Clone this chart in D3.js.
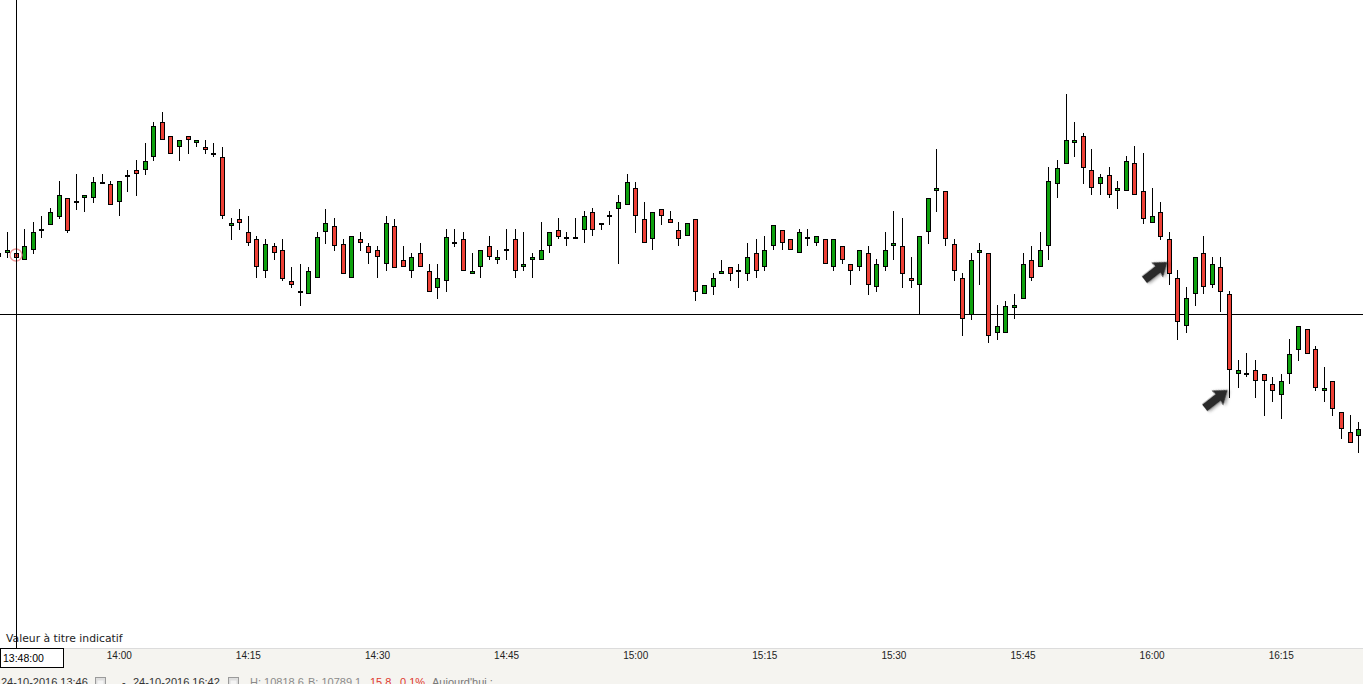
<!DOCTYPE html>
<html><head><meta charset="utf-8">
<script src="https://cdn.jsdelivr.net/npm/d3@7"></script>
<style>html,body{margin:0;padding:0;background:#fff;overflow:hidden}</style>
</head><body><svg id="c" width="1363" height="684"></svg>
<script>
// ---- data: 1-minute bars starting 13:46 ----
const startTime = "13:46";
const openP = [
10802.7,10802.8,10802.7,10802.1,10803.1,10805.0,10805.6,10806.4,10808.2,10807.8,
10808.3,10808.3,10809.7,10809.6,10807.9,10810.4,10811.0,10811.1,10812.4,10815.8,
10814.4,10813.4,10814.4,10813.8,10813.3,10812.6,10812.3,10805.5,10806.1,10804.8,
10804.1,10801.0,10803.4,10803.0,10799.9,10798.8,10798.7,10800.3,10804.9,10805.4,
10803.6,10800.3,10804.1,10803.4,10803.0,10801.7,10805.4,10802.0,10801.0,10802.7,
10800.9,10799.3,10800.0,10803.7,10804.1,10800.7,10801.4,10803.4,10802.1,10803.0,
10804.1,10801.4,10802.1,10802.1,10803.5,10805.0,10804.2,10804.2,10805.1,10806.8,
10805.6,10806.4,10807.2,10807.6,10809.2,10806.1,10804.2,10807.1,10806.1,10805.0,
10804.5,10806.1,10798.7,10799.4,10800.7,10801.3,10800.9,10800.7,10802.7,10801.4,
10803.5,10805.0,10804.1,10802.8,10804.2,10803.8,10804.1,10801.4,10803.4,10801.6,
10801.4,10802.7,10799.4,10801.4,10803.5,10803.4,10800.2,10799.6,10804.9,10809.0,
10808.9,10803.6,10800.2,10796.6,10802.8,10802.7,10794.8,10794.8,10797.3,10798.2,
10802.0,10801.4,10803.5,10809.7,10811.7,10813.8,10814.4,10811.0,10809.7,10810.5,
10809.0,10809.0,10811.7,10808.9,10805.8,10806.8,10804.1,10800.2,10795.5,10798.7,
10802.7,10799.6,10801.3,10798.6,10790.7,10790.6,10791.0,10790.6,10789.6,10788.6,
10790.7,10793.1,10795.1,10793.1,10789.0,10789.9,10786.8,10784.8,10784.5];
const highP = [
10802.8,10804.8,10802.7,10805.1,10805.8,10806.4,10807.2,10809.9,10808.2,10810.6,
10808.5,10810.3,10810.6,10809.9,10809.9,10811.0,10812.0,10813.7,10815.8,10816.8,
10814.4,10814.0,10814.4,10814.0,10814.0,10813.7,10813.3,10806.2,10807.1,10806.4,
10804.4,10804.1,10803.7,10804.1,10801.3,10801.6,10801.3,10804.8,10807.1,10806.2,
10804.1,10804.4,10804.8,10803.7,10803.4,10806.4,10806.1,10803.4,10802.7,10803.7,
10801.6,10801.6,10805.1,10805.1,10804.8,10802.7,10803.0,10804.4,10803.0,10805.1,
10805.1,10804.8,10802.7,10805.8,10804.8,10806.2,10804.8,10806.2,10806.9,10807.2,
10805.7,10806.9,10808.5,10810.6,10809.8,10807.8,10806.8,10807.1,10806.9,10805.8,
10805.7,10806.1,10799.5,10800.7,10802.0,10801.3,10801.6,10803.7,10804.1,10804.4,
10805.5,10805.0,10804.1,10805.1,10805.1,10804.4,10804.1,10804.1,10803.4,10801.6,
10803.0,10803.4,10802.1,10804.8,10806.9,10806.2,10802.3,10804.4,10808.2,10813.1,
10808.9,10804.1,10800.7,10802.7,10803.7,10802.7,10797.5,10797.9,10798.6,10802.7,
10803.4,10804.8,10811.3,10812.0,10818.6,10815.8,10814.7,10813.1,10810.6,10811.3,
10809.9,10812.4,10813.4,10812.7,10809.2,10807.8,10804.8,10801.0,10799.3,10802.3,
10804.4,10802.3,10802.3,10798.9,10792.0,10792.7,10792.0,10790.6,10790.3,10790.6,
10794.1,10795.4,10795.1,10793.4,10791.3,10789.9,10786.8,10786.5,10785.8];
const lowP = [
10802.2,10802.3,10802.2,10802.1,10802.7,10804.3,10805.6,10806.2,10804.8,10807.1,
10806.9,10807.8,10809.7,10807.6,10806.5,10808.9,10808.5,10810.6,10812.0,10814.1,
10812.7,10812.0,10812.7,10813.4,10812.7,10812.4,10806.2,10804.1,10805.1,10803.5,
10800.3,10800.3,10802.1,10800.0,10799.3,10797.5,10798.7,10800.3,10803.7,10803.0,
10800.7,10800.3,10803.0,10801.7,10800.3,10801.0,10801.3,10801.4,10800.3,10801.4,
10798.9,10798.2,10798.9,10803.4,10801.0,10800.7,10800.3,10802.1,10801.7,10802.1,
10800.3,10801.0,10800.3,10802.1,10802.8,10804.2,10803.5,10804.2,10803.8,10804.5,
10805.1,10805.6,10801.7,10807.6,10804.8,10803.8,10803.1,10805.6,10805.8,10803.5,
10804.5,10798.0,10798.7,10798.6,10800.7,10800.0,10799.3,10800.0,10800.3,10801.0,
10803.1,10803.1,10803.1,10802.8,10803.5,10803.5,10801.7,10801.0,10801.7,10799.6,
10801.0,10798.6,10798.9,10801.0,10802.1,10799.3,10799.3,10796.6,10803.7,10806.9,
10803.5,10800.0,10794.5,10796.1,10799.6,10793.8,10794.1,10794.8,10796.2,10798.2,
10800.0,10801.4,10802.1,10808.3,10811.7,10812.4,10809.7,10808.6,10808.6,10808.3,
10807.2,10809.0,10808.6,10805.7,10805.8,10804.1,10799.6,10794.1,10794.8,10797.5,
10798.7,10799.3,10796.9,10788.3,10789.3,10790.4,10788.3,10786.5,10787.9,10786.2,
10789.7,10792.0,10792.7,10789.0,10787.9,10786.5,10784.2,10783.8,10782.8];
const closeP = [
10802.4,10803.0,10802.3,10803.4,10804.8,10805.1,10806.8,10808.5,10805.0,10807.9,
10808.5,10809.8,10809.8,10807.6,10809.9,10810.5,10810.7,10811.9,10815.4,10814.1,
10812.7,10814.0,10814.1,10814.0,10813.1,10812.7,10806.5,10805.7,10805.8,10803.8,
10801.4,10803.6,10802.8,10800.2,10799.6,10798.9,10800.9,10804.3,10805.7,10803.5,
10800.7,10804.4,10803.8,10802.8,10802.4,10805.7,10801.3,10801.4,10802.3,10801.4,
10798.9,10800.2,10804.3,10803.8,10801.0,10800.9,10803.0,10802.4,10802.3,10803.1,
10801.0,10801.6,10802.3,10803.0,10804.8,10804.4,10804.3,10804.3,10806.4,10805.1,
10805.7,10806.5,10807.8,10809.8,10806.5,10803.8,10806.8,10806.5,10805.8,10804.2,
10805.7,10798.9,10799.5,10800.2,10800.9,10800.7,10801.0,10802.3,10801.0,10803.0,
10805.5,10803.8,10803.1,10804.8,10804.3,10804.4,10801.7,10804.1,10802.1,10801.0,
10803.0,10799.6,10801.6,10803.0,10803.7,10800.7,10800.0,10804.4,10808.2,10809.2,
10804.2,10801.0,10796.2,10802.0,10803.0,10794.5,10795.4,10797.4,10797.5,10801.6,
10800.3,10803.0,10809.9,10811.2,10814.0,10814.0,10811.3,10809.3,10810.3,10808.6,
10809.2,10811.9,10808.6,10806.2,10806.4,10804.4,10800.7,10795.9,10798.2,10802.3,
10799.4,10801.6,10798.9,10791.1,10791.0,10790.7,10790.0,10790.0,10789.0,10789.9,
10792.6,10795.4,10792.7,10789.3,10789.2,10787.2,10785.2,10783.8,10785.1];
const tickLabels = ["14:00","14:15","14:30","14:45","15:00","15:15","15:30","15:45","16:00","16:15"];
const crossTime = "13:48";
const crossPrice = 10796.6;
const crossLabel = "13:48:00";
const markerTime = "13:48";
const markerPrice = 10802.5;
const arrowTimes = ["16:02","16:09"];
const arrowPrices = [10801.8, 10789.0];
const noteText = "Valeur à titre indicatif";
const statusParts = [
  {t:"24-10-2016 13:46", c:"#333"},
  {icon:true},
  {t:"-", c:"#333"},
  {t:"24-10-2016 16:42", c:"#333"},
  {icon:true},
  {t:"H: 10818.6", c:"#8a8a8a"},
  {t:"B: 10789.1", c:"#8a8a8a"},
  {t:"15.8", c:"#e0382e"},
  {t:"0.1%", c:"#e0382e"},
  {t:"Aujourd'hui :", c:"#7a7a7a"}
];
const statusX = [1, 95, 122, 133, 228, 250, 308, 370, 400, 432];

// ---- scales ----
const W = 1363, H = 684, axisTop = 648;
const parse = d3.timeParse("%H:%M");
const t0 = parse(startTime);
const times = openP.map((_, i) => d3.timeMinute.offset(t0, i));
const x = d3.scaleTime().domain([parse("13:48"), parse("16:15")]).range([15.5, 15.5 + 147 * 8.607]);
const y = d3.scaleLinear().domain([10828, 10828 - 68.4]).range([0, 684]);

const svg = d3.select("#c");
const defs = svg.append("defs");
const f = defs.append("filter").attr("id", "sh").attr("x", "-50%").attr("y", "-50%").attr("width", "200%").attr("height", "200%");
f.append("feDropShadow").attr("dx", 1.5).attr("dy", 2).attr("stdDeviation", 1.5).attr("flood-color", "#000").attr("flood-opacity", 0.35);
defs.append("clipPath").attr("id", "plot").append("rect").attr("x", 0).attr("y", 0).attr("width", W).attr("height", axisTop);

svg.append("rect").attr("width", W).attr("height", H).attr("fill", "#fff");

const plot = svg.append("g").attr("clip-path", "url(#plot)");

// horizontal crosshair
plot.append("line")
  .attr("x1", 0).attr("x2", W)
  .attr("y1", Math.round(y(crossPrice)) + 0.5).attr("y2", Math.round(y(crossPrice)) + 0.5)
  .attr("stroke", "#000").attr("stroke-width", 1);

const data = times.map((t, i) => ({t, o: openP[i], h: highP[i], l: lowP[i], c: closeP[i]}));
const cg = plot.append("g");
const candle = cg.selectAll("g").data(data).join("g");
candle.append("line")
  .attr("x1", d => Math.round(x(d.t)) + 0.5).attr("x2", d => Math.round(x(d.t)) + 0.5)
  .attr("y1", d => Math.round(y(d.h))).attr("y2", d => Math.round(y(d.l)) + 1)
  .attr("stroke", "#000").attr("stroke-width", 1);
candle.append("rect")
  .attr("x", d => Math.round(x(d.t)) - 1.5)
  .attr("width", 4)
  .attr("y", d => Math.round(y(Math.max(d.o, d.c))) + 0.5)
  .attr("height", d => Math.max(1, Math.round(y(Math.min(d.o, d.c))) - Math.round(y(Math.max(d.o, d.c)))))
  .attr("fill", d => d.c >= d.o ? "#0ea10e" : "#ee4036")
  .attr("stroke", "#000").attr("stroke-width", 1);

// red marker circle
plot.append("circle")
  .attr("cx", x(parse(markerTime)) + 0.5).attr("cy", y(markerPrice))
  .attr("r", 6).attr("fill", "none").attr("stroke", "#f29a9a").attr("stroke-width", 1.3);

// arrows
const arrowPath = "M0,0 L-13,-9.5 L-12,-4.2 L-29,-4.2 L-29,4.2 L-12,4.2 L-13,9.5 Z";
arrowTimes.forEach((tm, i) => {
  plot.append("path")
    .attr("d", arrowPath)
    .attr("transform", `translate(${x(parse(tm)) - 1.5},${y(arrowPrices[i])}) rotate(-38)`)
    .attr("fill", "#2b2b2b").attr("filter", "url(#sh)");
});

// note text
svg.append("text").attr("x", 6).attr("y", 641.5)
  .attr("font-family", "DejaVu Sans, Verdana, sans-serif").attr("font-size", 10.8)
  .attr("fill", "#222").text(noteText);

// vertical crosshair
svg.append("line")
  .attr("x1", Math.round(x(parse(crossTime))) + 0.5).attr("x2", Math.round(x(parse(crossTime))) + 0.5)
  .attr("y1", 0).attr("y2", axisTop)
  .attr("stroke", "#000").attr("stroke-width", 1);

// axis bar
svg.append("rect").attr("x", 0).attr("y", axisTop).attr("width", W).attr("height", H - axisTop).attr("fill", "#f5f4f0");
svg.append("line").attr("x1", 0).attr("x2", W).attr("y1", axisTop + 0.5).attr("y2", axisTop + 0.5).attr("stroke", "#dcdcdc");

const xAxis = d3.axisBottom(x)
  .tickValues(tickLabels.map(parse))
  .tickFormat(d3.timeFormat("%H:%M"))
  .tickSize(0).tickPadding(4);
const ax = svg.append("g").attr("transform", `translate(0,${axisTop})`).call(xAxis);
ax.select(".domain").remove();
ax.selectAll("text").attr("font-family", "Liberation Sans, Arial, sans-serif").attr("font-size", 10).attr("fill", "#222");

// crosshair time box
svg.append("rect").attr("x", 0.5).attr("y", axisTop + 0.5).attr("width", 63).attr("height", 19)
  .attr("fill", "#fff").attr("stroke", "#000");
svg.append("text").attr("x", 3).attr("y", 662)
  .attr("font-family", "Liberation Sans, Arial, sans-serif").attr("font-size", 10.5).attr("fill", "#000")
  .text(crossLabel);

// status line
statusParts.forEach((p, i) => {
  if (p.icon) {
    const gx = statusX[i];
    svg.append("rect").attr("x", gx + 0.5).attr("y", 677.5).attr("width", 10).attr("height", 10)
      .attr("fill", "#dedede").attr("stroke", "#9a9a9a");
    svg.append("rect").attr("x", gx + 2.5).attr("y", 680.5).attr("width", 6).attr("height", 5)
      .attr("fill", "#f4f4f4").attr("stroke", "none");
  } else {
    svg.append("text").attr("x", statusX[i]).attr("y", 685.5)
      .attr("font-family", "Liberation Sans, Arial, sans-serif").attr("font-size", 11)
      .attr("fill", p.c).text(p.t);
  }
});
</script>
</body></html>
